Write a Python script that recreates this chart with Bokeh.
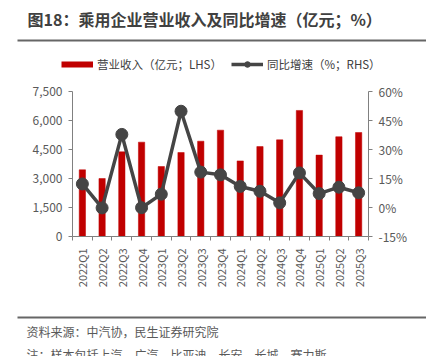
from math import pi
from bokeh.plotting import figure
from bokeh.core.properties import value
from bokeh.models import (Range1d, LinearAxis, FixedTicker, NumeralTickFormatter,
                          PrintfTickFormatter, Legend, LegendItem, ColumnDataSource)
from bokeh.embed import file_html
from bokeh.resources import INLINE

# ---- data ----
quarters = ["2022Q1", "2022Q2", "2022Q3", "2022Q4", "2023Q1", "2023Q2", "2023Q3",
            "2023Q4", "2024Q1", "2024Q2", "2024Q3", "2024Q4", "2025Q1", "2025Q2", "2025Q3"]
revenue = [3450, 3000, 4380, 4880, 3620, 4345, 4930, 5500, 3910, 4650, 5000, 6520, 4210, 5160, 5380]
yoy = [12.2, -0.2, 37.8, -0.1, 6.9, 49.8, 18.3, 16.9, 10.9, 8.4, 2.4, 17.9, 7.2, 10.5, 7.6]
left_ticks = [0, 1500, 3000, 4500, 6000, 7500]
right_ticks = [-15, 0, 15, 30, 45, 60]

title_text = "图18：乘用企业营业收入及同比增速（亿元；%）"
bar_label = "营业收入（亿元；LHS）"
line_label = "同比增速（%；RHS）"
source_text = "资料来源：中汽协，民生证券研究院"
note_text = "注：样本包括上汽、广汽、比亚迪、长安、长城、赛力斯"

FONT = "Noto Sans CJK SC"
RED = "#C00000"
DARK = "#454545"
AXIS = "#808080"
TXT = "#595959"
RULE = "#666666"

# ---- layout constants (pixels) ----
W, H = 426, 356
PL, PR, PT, PB = 72, 368, 91, 236   # plot area edges on the canvas

n = len(quarters)
x_per_px = n / (PR - PL)
l_per_px = (left_ticks[-1] - left_ticks[0]) / (PB - PT)
r_per_px = (right_ticks[-1] - right_ticks[0]) / (PB - PT)

p = figure(width=W, height=H, output_backend="svg", toolbar_location=None,
           x_range=Range1d(-PL * x_per_px, n + (W - PR) * x_per_px),
           y_range=Range1d(left_ticks[0] - (H - PB) * l_per_px, left_ticks[-1] + PT * l_per_px),
           x_axis_location=None, y_axis_location=None,
           min_border=0, min_border_left=0, min_border_right=0,
           min_border_top=0, min_border_bottom=0)
p.extra_y_ranges = {"pct": Range1d(right_ticks[0] - (H - PB) * r_per_px, right_ticks[-1] + PT * r_per_px),
                    "py": Range1d(H, 0),
                    "off": Range1d(-2, -1)}   # range that keeps the legend swatch off-canvas
p.extra_x_ranges = {"px": Range1d(0, W)}
p.outline_line_color = None
p.grid.visible = False
p.background_fill_color = "white"
p.border_fill_color = "white"


def style_axis(ax, size="12px"):
    ax.axis_line_color = AXIS
    ax.major_tick_line_color = AXIS
    ax.minor_tick_line_color = AXIS
    ax.major_label_text_color = TXT
    ax.major_label_text_font = FONT
    ax.major_label_text_font_size = size


left = LinearAxis(ticker=FixedTicker(ticks=left_ticks), formatter=NumeralTickFormatter(format="0,0"),
                  fixed_location=0, bounds=(left_ticks[0], left_ticks[-1]),
                  major_tick_in=0, major_tick_out=4, minor_tick_in=0, minor_tick_out=0,
                  major_label_standoff=6)
style_axis(left)
p.add_layout(left, "left")

right = LinearAxis(y_range_name="pct", ticker=FixedTicker(ticks=right_ticks),
                   formatter=PrintfTickFormatter(format="%d%%"),
                   fixed_location=n, bounds=(right_ticks[0], right_ticks[-1]),
                   major_tick_in=0, major_tick_out=4, minor_tick_in=0, minor_tick_out=0,
                   major_label_standoff=6)
style_axis(right)
p.add_layout(right, "right")

xs = [i + 0.5 for i in range(n)]
bottom = LinearAxis(ticker=FixedTicker(ticks=xs, minor_ticks=list(range(n + 1))),
                    major_label_overrides={x: q for x, q in zip(xs, quarters)},
                    major_label_orientation=pi / 2,
                    fixed_location=left_ticks[0], bounds=(0, n),
                    major_tick_in=0, major_tick_out=0, minor_tick_in=0, minor_tick_out=4,
                    major_label_standoff=8)
style_axis(bottom, "11px")
p.add_layout(bottom, "below")

# ---- marks ----
src = ColumnDataSource(dict(x=xs, q=quarters, rev=revenue, yoy=yoy))
p.vbar(x="x", top="rev", width=0.32, source=src, fill_color=RED, line_color=RED, line_width=0.5)
ln = p.line(x="x", y="yoy", source=src, y_range_name="pct", line_color=DARK, line_width=3.5)
pts = p.scatter(x="x", y="yoy", source=src, y_range_name="pct", size=12,
                fill_color=DARK, line_color=DARK)
# legend-only swatch for the bars (drawn on a range that puts it off the canvas)
swatch = p.line(x="x", y="rev", source=src, y_range_name="off", line_color=RED, line_width=6)

legend = Legend(items=[LegendItem(label=bar_label, renderers=[swatch]),
                       LegendItem(label=line_label, renderers=[ln, pts])],
                orientation="horizontal", location=(61, H - 72),
                border_line_color=None, background_fill_alpha=0,
                padding=0, margin=0, spacing=9, glyph_width=32, glyph_height=14,
                label_height=14, label_standoff=4,
                label_text_font=FONT, label_text_font_size="11.5px", label_text_color="#404040")
p.add_layout(legend)

# ---- title, rules, footer (pixel ranges) ----
p.text(x=[27], y=[18], text=[title_text], x_range_name="px", y_range_name="py",
       text_font=value(FONT), text_font_size="16px", text_font_style="bold",
       text_color="#404040", text_baseline="middle", text_align="left")
p.segment(x0=[17, 17], y0=[40, 317], x1=[W, W], y1=[40, 317], x_range_name="px", y_range_name="py",
          line_color=RULE, line_width=2)
p.text(x=[26, 26], y=[331, 354], text=[source_text, note_text], x_range_name="px", y_range_name="py",
       text_font=value(FONT), text_font_size="12px", text_color=TXT,
       text_baseline="middle", text_align="left")

open("out.html", "w").write(file_html(p, INLINE))
